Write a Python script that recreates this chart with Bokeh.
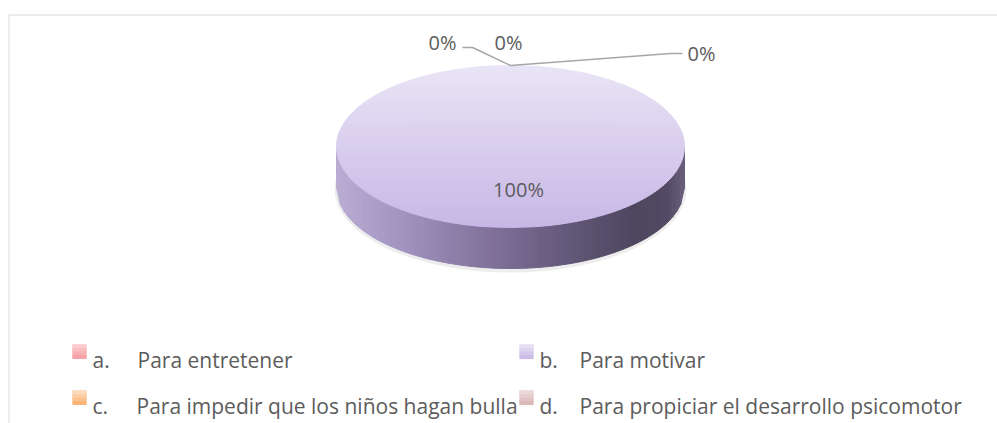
import numpy as np
from bokeh.plotting import figure
from bokeh.models import Range1d
from bokeh.core.properties import value
from bokeh.embed import file_html
from bokeh.resources import INLINE

# ---------------- data ----------------
categories = ["a.", "b.", "c.", "d."]
category_names = [
    "Para entretener",
    "Para motivar",
    "Para impedir que los niños hagan bulla",
    "Para propiciar el desarrollo psicomotor",
]
values = [0, 100, 0, 0]

# ---------------- styles / layout ----------------
slice_top_light = [(252, 210, 212), (234, 229, 245), (252, 224, 200), (238, 222, 222)]
slice_top_dark = [(244, 155, 160), (199, 183, 230), (249, 175, 108), (216, 180, 180)]
side_stops_x = [0.0, 0.2, 0.47, 0.65, 0.86, 0.95, 1.0]
side_stops_rgb = [(186, 173, 212), (160, 145, 190), (125, 110, 150), (100, 90, 124),
                  (78, 70, 95), (82, 74, 100), (104, 95, 124)]

cx, cy, rx, ry, depth = 510.0, 146.0, 174.0, 81.0, 41.0
label_x = [442, 518, 508, 701]
label_y = [42, 189, 42, 53]
leader_elbows = [[(462, 47), (472, 47)], None, None, [(682, 53), (670, 53)]]
legend_sq_x = [72, 519, 72, 519]
legend_base_y = [359, 359, 405, 405]
legend_letter_x = [92, 539, 92, 539]
legend_name_x = [137, 579, 136, 579]

TEXT_COLOR = "#5c5c5c"
FONT = value("Open Sans")
W, H = 997, 423


def mix(c1, c2, t):
    return tuple(int(round(a + (b - a) * t)) for a, b in zip(c1, c2))


def hexc(c):
    return "#%02x%02x%02x" % c


p = figure(width=W, height=H, x_range=Range1d(0, W), y_range=Range1d(H, 0),
           output_backend="svg", toolbar_location=None, min_border=0,
           x_axis_location=None, y_axis_location=None)
p.grid.visible = False
p.outline_line_color = None
p.background_fill_color = "white"
p.border_fill_color = "white"

# chart frame
p.line([8.5, 8.5, W], [H, 14.5, 14.5], line_color="#d9d9d9", line_width=1)

total = float(sum(values))
fracs = [v / total for v in values]
cum = np.concatenate([[0.0], np.cumsum(fracs)])
start_deg = [90 - 360 * cum[i] for i in range(len(values))]
end_deg = [90 - 360 * cum[i + 1] for i in range(len(values))]
mid_deg = [(s + e) / 2 for s, e in zip(start_deg, end_deg)]

# soft shadow
p.ellipse(x=[cx], y=[cy + depth + 2], width=[2 * rx + 4], height=[2 * ry + 4],
          fill_color="black", fill_alpha=0.07, line_color=None)

for i, f in enumerate(fracs):
    if f <= 0:
        continue
    if f >= 0.999:
        # side wall (front half), vertical gradient strips
        n = 90
        xs_edges = np.linspace(cx - rx, cx + rx, n + 1)
        sx, sy, sc = [], [], []
        for k in range(n):
            x0, x1 = xs_edges[k], xs_edges[k + 1]
            t0 = cy + ry * np.sqrt(max(0.0, 1 - ((x0 - cx) / rx) ** 2))
            t1 = cy + ry * np.sqrt(max(0.0, 1 - ((x1 - cx) / rx) ** 2))
            sx.append([x0, x1, x1, x0])
            sy.append([t0, t1, t1 + depth, t0 + depth])
            tm = ((x0 + x1) / 2 - (cx - rx)) / (2 * rx)
            col = tuple(int(round(np.interp(tm, side_stops_x, [c[j] for c in side_stops_rgb])))
                        for j in range(3))
            sc.append(hexc(col))
        p.patches(sx, sy, fill_color=sc, line_color=sc, line_width=1)
        # top face, horizontal gradient bands
        m = 80
        ys_edges = np.linspace(cy - ry, cy + ry, m + 1)
        bx, by, bc = [], [], []
        for k in range(m):
            yy = np.linspace(ys_edges[k], ys_edges[k + 1], 4)
            half = rx * np.sqrt(np.clip(1 - ((yy - cy) / ry) ** 2, 0, 1))
            bx.append(list(cx - half) + list((cx + half)[::-1]))
            by.append(list(yy) + list(yy[::-1]))
            t = (k + 0.5) / m
            bc.append(hexc(mix(slice_top_light[i], slice_top_dark[i], t)))
        p.patches(bx, by, fill_color=bc, line_color=bc, line_width=1)
    else:
        ang = np.radians(np.linspace(start_deg[i], end_deg[i], 100))
        wx = [cx] + list(cx + rx * np.cos(ang))
        wy = [cy] + list(cy - ry * np.sin(ang))
        p.patch(wx, wy, fill_color=hexc(mix(slice_top_light[i], slice_top_dark[i], 0.5)),
                line_color="white")

# leader lines + data labels
for i, v in enumerate(values):
    if leader_elbows[i] is not None:
        a = np.radians(mid_deg[i])
        tx, ty = cx + rx * np.cos(a), cy - ry * np.sin(a)
        pts = leader_elbows[i] + [(tx, ty)]
        p.line([q[0] for q in pts], [q[1] for q in pts], line_color="#a6a6a6", line_width=1.5)

pct = ["%d%%" % round(v / total * 100) for v in values]
p.text(x=label_x, y=label_y, text=pct, text_align="center", text_baseline="alphabetic",
       text_font=FONT, text_font_size="20px", text_color=TEXT_COLOR)

# legend markers (small vertical gradient, solid base underneath)
for i in range(len(categories)):
    x0 = legend_sq_x[i]
    y0 = legend_base_y[i] - 15
    p.quad(left=[x0], right=[x0 + 14], top=[y0], bottom=[y0 + 14],
           fill_color=hexc(mix(slice_top_light[i], slice_top_dark[i], 0.5)), line_color=None)
    n = 4
    qx0, qx1, qt, qb, qc = [], [], [], [], []
    for k in range(n):
        qx0.append(x0)
        qx1.append(x0 + 14)
        qt.append(y0 + 14 * k / n)
        qb.append(y0 + 14 * (k + 1) / n + 0.6)
        qc.append(hexc(mix(slice_top_light[i], slice_top_dark[i], (k + 0.5) / n)))
    p.quad(left=qx0, right=qx1, top=qt, bottom=qb, fill_color=qc, line_color=None)

p.text(x=legend_letter_x, y=legend_base_y, text=categories, text_align="left",
       text_baseline="alphabetic", text_font=FONT, text_font_size="21px", text_color=TEXT_COLOR)
p.text(x=legend_name_x, y=legend_base_y, text=category_names, text_align="left",
       text_baseline="alphabetic", text_font=FONT, text_font_size="21px", text_color=TEXT_COLOR)

open("out.html", "w").write(file_html(p, INLINE))
